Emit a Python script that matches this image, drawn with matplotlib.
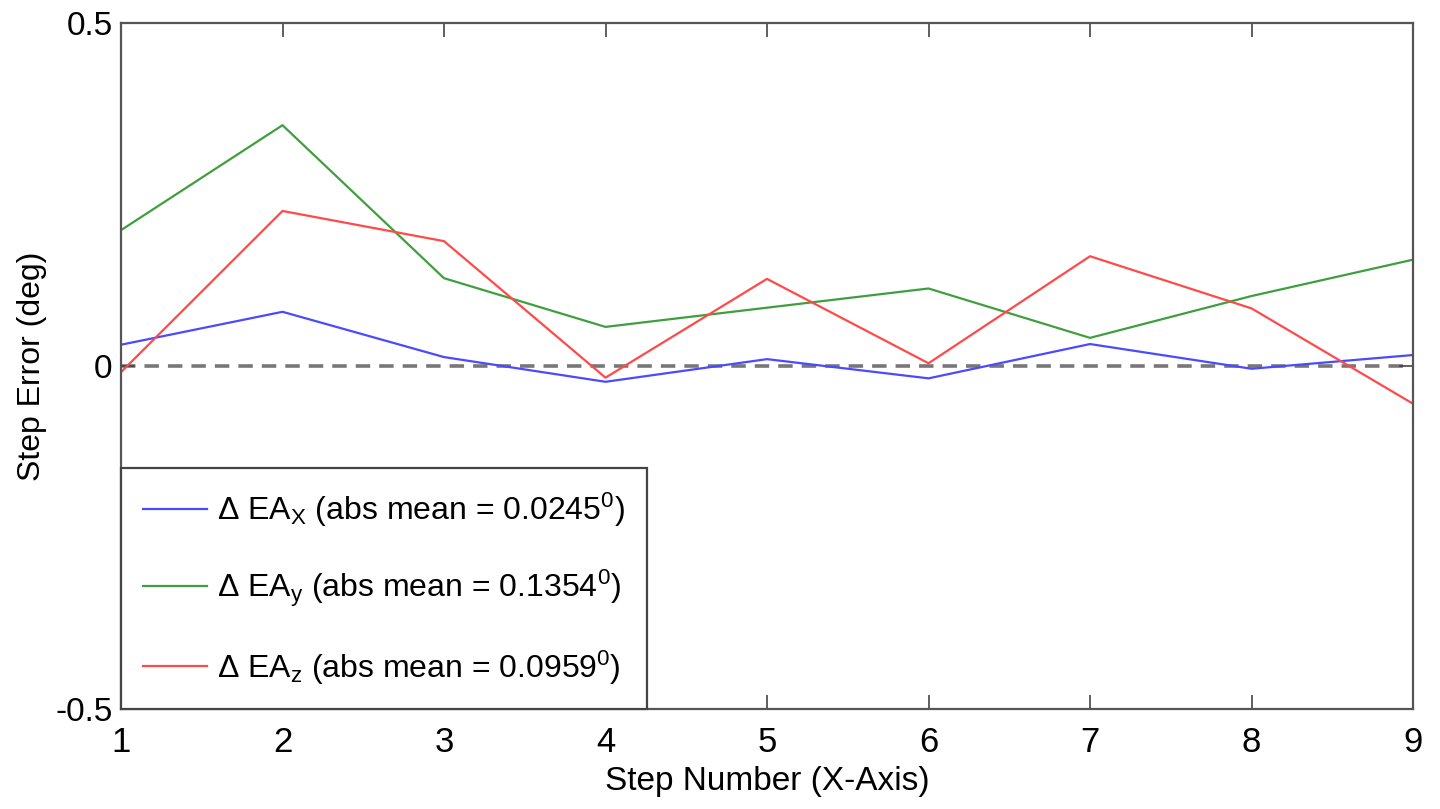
import numpy as np
import matplotlib
matplotlib.use("Agg")
import matplotlib.pyplot as plt

plt.rcParams['font.family'] = ['Liberation Sans', 'DejaVu Sans']
plt.rcParams['mathtext.fontset'] = 'custom'
plt.rcParams['mathtext.rm'] = 'Liberation Sans'
plt.rcParams['mathtext.it'] = 'Liberation Sans'

# dados
passos = [1, 2, 3, 4, 5, 6, 7, 8, 9]
erro_x = [0.031, 0.079, 0.013, -0.023, 0.010, -0.018, 0.032, -0.004, 0.016]
erro_y = [0.198, 0.351, 0.128, 0.057, 0.085, 0.113, 0.041, 0.102, 0.155]
erro_z = [-0.009, 0.226, 0.182, -0.017, 0.127, 0.004, 0.160, 0.084, -0.055]

rotulos = [
    r'$\Delta$ EA$_\mathrm{X}$ (abs mean = 0.0245$^\mathrm{0}$)',
    r'$\Delta$ EA$_\mathrm{y}$ (abs mean = 0.1354$^\mathrm{0}$)',
    r'$\Delta$ EA$_\mathrm{z}$ (abs mean = 0.0959$^\mathrm{0}$)',
]
cores = ['#4a4aff', '#3f9f3f', '#ff4a4a']

fig = plt.figure(figsize=(14.4, 8.09), dpi=100)
ax = fig.add_axes([121 / 1440, 1 - 709 / 809, (1413 - 121) / 1440, (709 - 23) / 809])

ax.axhline(0, color='#777777', ls=(0, (4, 2.5)), lw=2.6, zorder=1)
for serie, cor, rot in zip([erro_x, erro_y, erro_z], cores, rotulos):
    ax.plot(passos, serie, color=cor, lw=1.6, label=rot, zorder=2)

ax.set_xlim(1, 9)
ax.set_ylim(-0.5, 0.5)
ax.set_xticks(passos)
ax.set_yticks([-0.5, 0, 0.5])
ax.set_yticklabels(['-0.5', '0', '0.5'])
ax.tick_params(direction='in', top=True, right=True, length=10, width=1.2,
               color='#444444')
ax.tick_params(axis='x', labelsize=25, pad=12)
ax.tick_params(axis='y', labelsize=24, pad=6)
for s in ax.spines.values():
    s.set_color('#555555')
    s.set_linewidth(1.6)

ax.set_xlabel('Step Number (X-Axis)', fontsize=24, labelpad=5)
ax.set_ylabel('Step Error (deg)', fontsize=23, labelpad=6)

leg = ax.legend(loc='lower left', bbox_to_anchor=(0, 0), borderaxespad=0,
                fontsize=23, handlelength=2.0, handletextpad=0.3,
                labelspacing=1.22, borderpad=0.7, fancybox=False,
                framealpha=1)
leg.get_frame().set_edgecolor('#444444')
leg.get_frame().set_linewidth(1.6)

fig.savefig('out.png', dpi=100)
